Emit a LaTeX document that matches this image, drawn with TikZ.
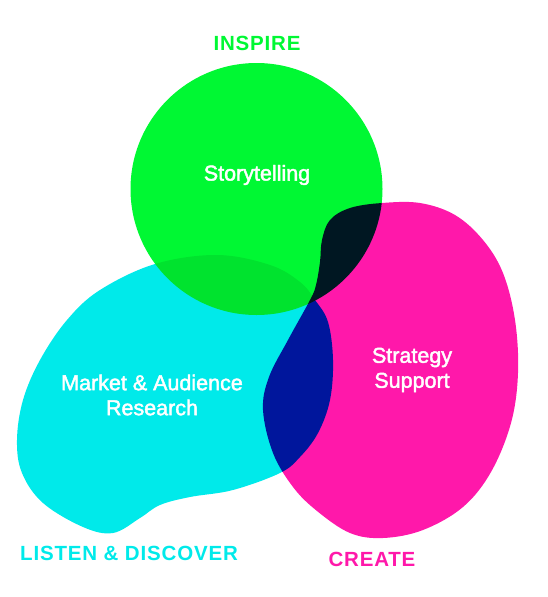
\documentclass[tikz,border=0pt]{standalone}
\usepackage{fontspec}
\setmainfont{Liberation Sans}[FakeBold=2]
\newfontfamily\labfont{Liberation Sans}[LetterSpace=4,BoldFont={Liberation Sans Bold}]
\definecolor{vgreen}{RGB}{0,248,51}
\definecolor{vcyan}{RGB}{0,234,234}
\definecolor{vmag}{RGB}{255,24,170}
\tikzset{
  inner/.style={text=white,align=center,font=\fontsize{21.5}{25}\selectfont},
  lab/.style={font=\labfont\bfseries\fontsize{20.5}{24}\selectfont}
}
\begin{document}
\begin{tikzpicture}[x=1pt,y=-1pt]
\useasboundingbox (0,0) rectangle (548,597);
\begin{scope}[blend group=multiply]
  \fill[vcyan] plot[smooth cycle,tension=0.6] coordinates {
    (17,440) (23,400) (40,360) (67,320) (100,290) (155,264) (217,255) (270,265)
    (300,282) (315,300) (328,322) (333,360) (330,400) (318,433) (300,457) (280,473)
    (233,490) (190,497) (160,505) (140,518) (113,533) (83,527) (43,503) (22,473)};
  \fill[vmag] plot[smooth cycle,tension=0.6] coordinates {
    (310,300) (316,285) (320,262) (322,240) (330,220) (350,208) (382,203) (420,203)
    (455,215) (483,240) (503,273) (515,320) (518,373) (511,423) (491,472) (463,507)
    (423,530) (383,538) (350,533) (317,511) (293,487) (273,453) (263,410) (269,377)
    (288,340)};
  \fill[vgreen] (256.5,189) circle[radius=126];
\end{scope}
\node[inner] (story) at (257,175) {Storytelling};
\node[inner] (market) at (152,395) {Market \& Audience\\Research};
\node[inner] (strat) at (412,370) {Strategy\\Support};
\node[lab,text=vgreen] (inspire) at (257,43) {INSPIRE};
\node[lab,text=vcyan] (listen) at (129,553) {LISTEN \& DISCOVER};
\node[lab,text=vmag] (create) at (372,559) {CREATE};
\end{tikzpicture}
\end{document}
